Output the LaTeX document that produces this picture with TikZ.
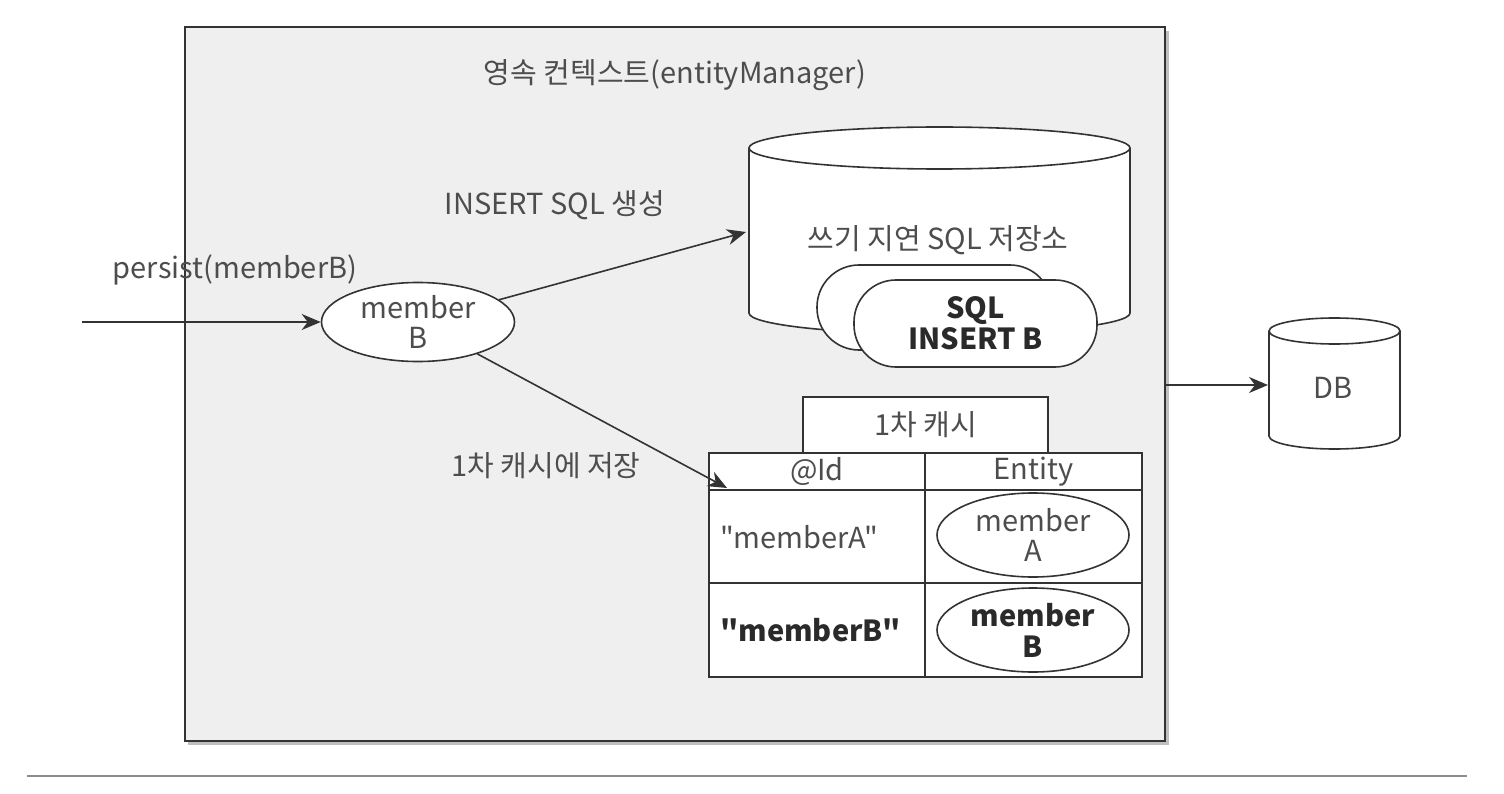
\documentclass[tikz,border=0pt]{standalone}
\usepackage{fontspec}
\newfontfamily\mainfnt{Noto Sans CJK KR}
\usetikzlibrary{arrows.meta,shapes.geometric}
\definecolor{txt}{HTML}{4D4D4D}
\definecolor{txtb}{HTML}{2A2A2A}
\definecolor{ln}{HTML}{333333}
\definecolor{bg}{HTML}{EFEFEF}
\begin{document}
\begin{tikzpicture}[x=1pt,y=-1pt,
  every node/.style={text=txt, font=\mainfnt\fontsize{29}{30}\selectfont, inner sep=0pt},
  boldtxt/.style={text=txtb, font=\mainfnt\fontsize{29}{31}\selectfont\bfseries},
  obj/.style={ellipse, draw=ln, line width=1.6pt, fill=white},
  pill/.style={rectangle, rounded corners=42pt, draw=ln, line width=1.6pt, fill=white},
  cell/.style={rectangle, draw=ln, line width=1.6pt, fill=white},
  outline/.style={draw=ln, line width=1.6pt},
  arr/.style={draw=ln, line width=1.6pt, -{Stealth[length=19pt,width=16pt,inset=6pt]}}
]
\useasboundingbox (0,0) rectangle (1504,794);
\fill[white] (0,0) rectangle (1504,794);

% persistence context box
\fill[black!25] (188,31) rectangle (1169,745);
\node[draw=ln, line width=1.8pt, fill=bg, minimum width=980pt, minimum height=714pt] (pc) at (675,384) {};
\node (title) at (675,75) {영속 컨텍스트(entityManager)};

% write-behind SQL store (cylinder)
\draw[outline, fill=white] (939.5,313) ellipse [x radius=190.5, y radius=21];
\fill[white] (749,148) rectangle (1130,313);
\draw[outline] (749,148) -- (749,313) (1130,148) -- (1130,313);
\draw[outline, fill=white] (939.5,148) ellipse [x radius=190.5, y radius=21];
\node (wb) at (938,240) {쓰기 지연 SQL 저장소};
\node[pill, minimum width=235pt, minimum height=85pt] (sql1) at (934.5,307.5) {};
\node[pill, minimum width=243pt, minimum height=87pt] (sql2) at (975.5,323.5) {};
\node[boldtxt, align=center] (sqlt) at (sql2) {SQL\\INSERT B};

% member B
\node[obj, minimum width=193pt, minimum height=79pt] (mb) at (418,322) {};
\node[align=center] (mbt) at (mb) {member\\B};

% first-level cache table
\node[cell, minimum width=245pt, minimum height=56pt] (ch) at (925.5,425) {1차 캐시};
\node[cell, minimum width=216pt, minimum height=37pt] (h1) at (817,471.5) {@Id};
\node[cell, minimum width=217pt, minimum height=37pt] (h2) at (1033.5,471.5) {Entity};
\node[cell, minimum width=216pt, minimum height=93pt] (r1a) at (817,536.5) {};
\node[cell, minimum width=217pt, minimum height=93pt] (r1b) at (1033.5,536.5) {};
\node[cell, minimum width=216pt, minimum height=94pt] (r2a) at (817,630) {};
\node[cell, minimum width=217pt, minimum height=94pt] (r2b) at (1033.5,630) {};
\node[anchor=west] (ka) at (720,537) {"memberA"};
\node[anchor=west, boldtxt] (kb) at (720,630) {"memberB"};
\node[obj, minimum width=192pt, minimum height=84pt] (ea) at (1033,535) {};
\node[align=center] (eat) at (ea) {member\\A};
\node[obj, minimum width=192pt, minimum height=84pt] (eb) at (1033,630) {};
\node[align=center, boldtxt] (ebt) at (eb) {member\\B};

% DB cylinder
\draw[outline, fill=white] (1334.5,436) ellipse [x radius=65.5, y radius=13];
\fill[white] (1269,331) rectangle (1400,436);
\draw[outline] (1269,331) -- (1269,436) (1400,331) -- (1400,436);
\draw[outline, fill=white] (1334.5,331) ellipse [x radius=65.5, y radius=13];
\node (db) at (1333,388) {DB};

% connectors
\coordinate (src) at (82,322);
\coordinate (cylL) at (746,232);
\coordinate (tc) at (727,488);
\coordinate (dbL) at (1268,385);
\draw[arr] (src) -- (mb);
\draw[arr] (mb) -- (cylL);
\draw[arr] (mb) -- (tc);
\draw[arr] (pc.east |- dbL) -- (dbL);

% labels
\node (lp) at (235,270) {persist(memberB)};
\node (li) at (555,205) {INSERT SQL 생성};
\node (lc) at (546,466) {1차 캐시에 저장};

% bottom rule
\draw[draw=black!45, line width=2.5pt] (27,776) -- (1467,776);
\end{tikzpicture}
\end{document}
